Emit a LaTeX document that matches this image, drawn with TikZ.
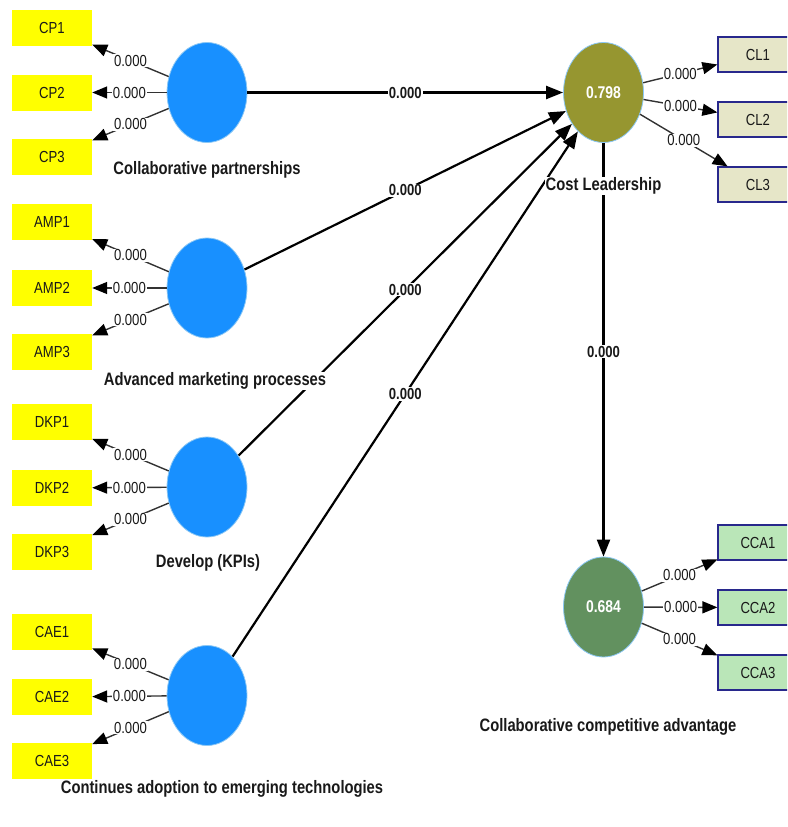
\documentclass[tikz,border=0pt]{standalone}
\usepackage{fontspec}
\setmainfont{Liberation Sans}[FakeStretch=0.82]
\usetikzlibrary{shapes.geometric,arrows.meta}
\definecolor{lvblue}{RGB}{24,144,255}
\definecolor{lvolive}{RGB}{150,150,48}
\definecolor{lvgreen}{RGB}{98,145,95}
\definecolor{lvborder}{RGB}{140,200,245}
\definecolor{indyellow}{RGB}{255,255,0}
\definecolor{clfill}{RGB}{230,230,200}
\definecolor{ccafill}{RGB}{186,230,184}
\definecolor{boxborder}{RGB}{40,40,140}
\definecolor{loadline}{RGB}{50,50,50}
\definecolor{txt}{RGB}{25,25,25}
\begin{document}
\begin{tikzpicture}[x=1pt,y=-1pt,
  latent/.style={ellipse,draw=lvborder,line width=0.8pt,minimum width=80pt,minimum height=100pt,inner sep=0pt,text=white,font=\bfseries\fontsize{17}{19}\selectfont},
  indbox/.style={rectangle,minimum width=80pt,minimum height=36pt,inner sep=0pt,text=txt,font=\fontsize{16}{18}\selectfont},
  yind/.style={indbox,fill=indyellow},
  cind/.style={indbox,fill=clfill,draw=boxborder,line width=1.2pt,minimum height=35pt},
  gind/.style={indbox,fill=ccafill,draw=boxborder,line width=1.2pt,minimum height=35pt},
  lvname/.style={fill=white,inner sep=1pt,text=txt,font=\bfseries\fontsize{18}{20}\selectfont},
  loadlbl/.style={fill=white,inner sep=0.8pt,text=txt,font=\fontsize{16}{18}\selectfont},
  pathlbl/.style={fill=white,inner sep=1pt,text=txt,font=\bfseries\fontsize{16}{18}\selectfont},
  loadarrow/.style={draw=loadline,line width=1.4pt,-{Triangle[length=15pt,width=12pt,color=black]}},
  patharrow/.style={draw=black,line width=2.2pt,-{Triangle[length=17pt,width=13pt]}}
]
\useasboundingbox (0,0) rectangle (787,827);
\clip (0,0) rectangle (787,827);

% latent variables
\node[latent,fill=lvblue] (cp) at (207,92.5) {};
\node[latent,fill=lvblue] (amp) at (207,288) {};
\node[latent,fill=lvblue] (dkp) at (207,487) {};
\node[latent,fill=lvblue] (cae) at (207,695.5) {};
\node[latent,fill=lvolive] (cl) at (603.5,92.5) {0.798};
\node[latent,fill=lvgreen] (cca) at (603.5,607) {0.684};

% indicators
\node[yind] (cp1) at (52,28) {CP1};
\node[yind] (cp2) at (52,92.5) {CP2};
\node[yind] (cp3) at (52,157) {CP3};
\node[yind] (amp1) at (52,222) {AMP1};
\node[yind] (amp2) at (52,288) {AMP2};
\node[yind] (amp3) at (52,352) {AMP3};
\node[yind] (dkp1) at (52,422) {DKP1};
\node[yind] (dkp2) at (52,488) {DKP2};
\node[yind] (dkp3) at (52,552) {DKP3};
\node[yind] (cae1) at (52,632) {CAE1};
\node[yind] (cae2) at (52,697) {CAE2};
\node[yind] (cae3) at (52,761) {CAE3};
\node[cind] (cl1) at (758,54.5) {CL1};
\node[cind] (cl2) at (758,119.5) {CL2};
\node[cind] (cl3) at (758,184.5) {CL3};
\node[gind] (cca1) at (758,542.5) {CCA1};
\node[gind] (cca2) at (758,607.5) {CCA2};
\node[gind] (cca3) at (758,672.5) {CCA3};

% loadings
\foreach \lv/\ind in {cp/cp1,cp/cp2,cp/cp3,amp/amp1,amp/amp2,amp/amp3,dkp/dkp1,dkp/dkp2,dkp/dkp3,cae/cae1,cae/cae2,cae/cae3,cl/cl1,cl/cl2,cl/cl3,cca/cca1,cca/cca2,cca/cca3}
  \draw[loadarrow] (\lv) -- node[loadlbl] {0.000} (\ind);

% structural paths
\draw[patharrow] (cp) -- node[pathlbl] {0.000} (cl);
\draw[patharrow] (amp) -- node[pathlbl] {0.000} (cl);
\draw[patharrow] (dkp) -- node[pathlbl] {0.000} (cl);
\draw[patharrow] (cae) -- node[pathlbl] {0.000} (cl);
\draw[patharrow] (cl) -- node[pathlbl,pos=0.505] {0.000} (cca);

% latent names
\node[lvname] (cpname) at (207,170) {Collaborative partnerships};
\node[lvname] (ampname) at (215,381) {Advanced marketing processes};
\node[lvname] (dkpname) at (208,563) {Develop (KPIs)};
\node[lvname] (caename) at (222,789) {Continues adoption to emerging technologies};
\node[lvname] (clname) at (603.5,186) {Cost Leadership};
\node[lvname] (ccaname) at (608,727) {Collaborative competitive advantage};
\end{tikzpicture}
\end{document}
